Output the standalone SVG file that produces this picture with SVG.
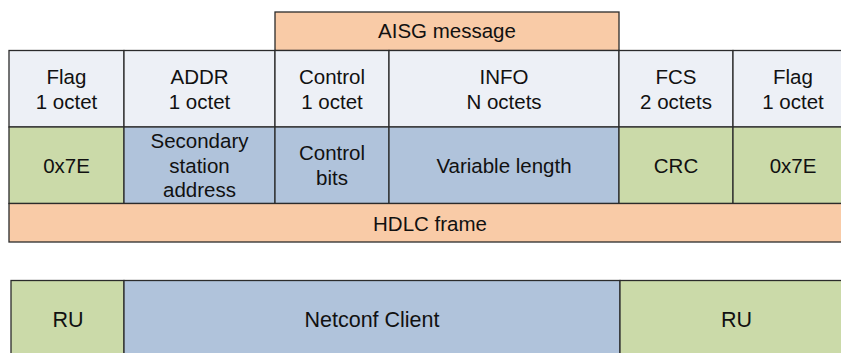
<svg xmlns="http://www.w3.org/2000/svg" width="841" height="353" viewBox="0 0 841 353">
<style>
rect{stroke:#2b2b2b;stroke-width:1.3}
.hd{fill:#edf0f6}
.gr{fill:#cbdaa9}
.bl{fill:#b0c3db}
.or{fill:#f9cba7}
text{font-family:"Liberation Sans",Arial,sans-serif;font-size:20.5px;fill:#111;text-anchor:middle}
.big{font-size:21.5px}
</style>
<rect x="0" y="0" width="841" height="353" fill="#fff" style="stroke:none"/>
<g id="aisg"><rect class="or" x="275" y="12" width="344" height="38.5"/><text x="447" y="38">AISG message</text></g>
<g id="h-flag1"><rect class="hd" x="9" y="50.5" width="115" height="76.5"/><text x="66.5" y="84">Flag</text><text x="66.5" y="109">1 octet</text></g>
<g id="h-addr"><rect class="hd" x="124" y="50.5" width="151" height="76.5"/><text x="199.5" y="84">ADDR</text><text x="199.5" y="109">1 octet</text></g>
<g id="h-ctrl"><rect class="hd" x="275" y="50.5" width="114" height="76.5"/><text x="332" y="84">Control</text><text x="332" y="109">1 octet</text></g>
<g id="h-info"><rect class="hd" x="389" y="50.5" width="230" height="76.5"/><text x="504" y="84">INFO</text><text x="504" y="109">N octets</text></g>
<g id="h-fcs"><rect class="hd" x="619" y="50.5" width="114" height="76.5"/><text x="676" y="84">FCS</text><text x="676" y="109">2 octets</text></g>
<g id="h-flag2"><rect class="hd" x="733" y="50.5" width="120" height="76.5"/><text x="793" y="84">Flag</text><text x="793" y="109">1 octet</text></g>
<g id="d-flag1"><rect class="gr" x="9" y="127" width="115" height="76.5"/><text x="66.5" y="173">0x7E</text></g>
<g id="d-addr"><rect class="bl" x="124" y="127" width="151" height="76.5"/><text x="199.5" y="148">Secondary</text><text x="199.5" y="173">station</text><text x="199.5" y="197">address</text></g>
<g id="d-ctrl"><rect class="bl" x="275" y="127" width="114" height="76.5"/><text x="332" y="160">Control</text><text x="332" y="185">bits</text></g>
<g id="d-info"><rect class="bl" x="389" y="127" width="230" height="76.5"/><text x="504" y="173">Variable length</text></g>
<g id="d-crc"><rect class="gr" x="619" y="127" width="114" height="76.5"/><text x="676" y="173">CRC</text></g>
<g id="d-flag2"><rect class="gr" x="733" y="127" width="120" height="76.5"/><text x="793" y="173">0x7E</text></g>
<g id="hdlc"><rect class="or" x="9" y="203.5" width="844" height="38.5"/><text x="430" y="231">HDLC frame</text></g>
<g id="ru1"><rect class="gr" x="11" y="280.5" width="113" height="80"/><text class="big" x="68" y="327">RU</text></g>
<g id="netconf"><rect class="bl" x="124" y="280.5" width="496" height="80"/><text class="big" x="372" y="327">Netconf Client</text></g>
<g id="ru2"><rect class="gr" x="620" y="280.5" width="233" height="80"/><text class="big" x="736.5" y="327">RU</text></g>
<g id="connectors"></g>
</svg>
